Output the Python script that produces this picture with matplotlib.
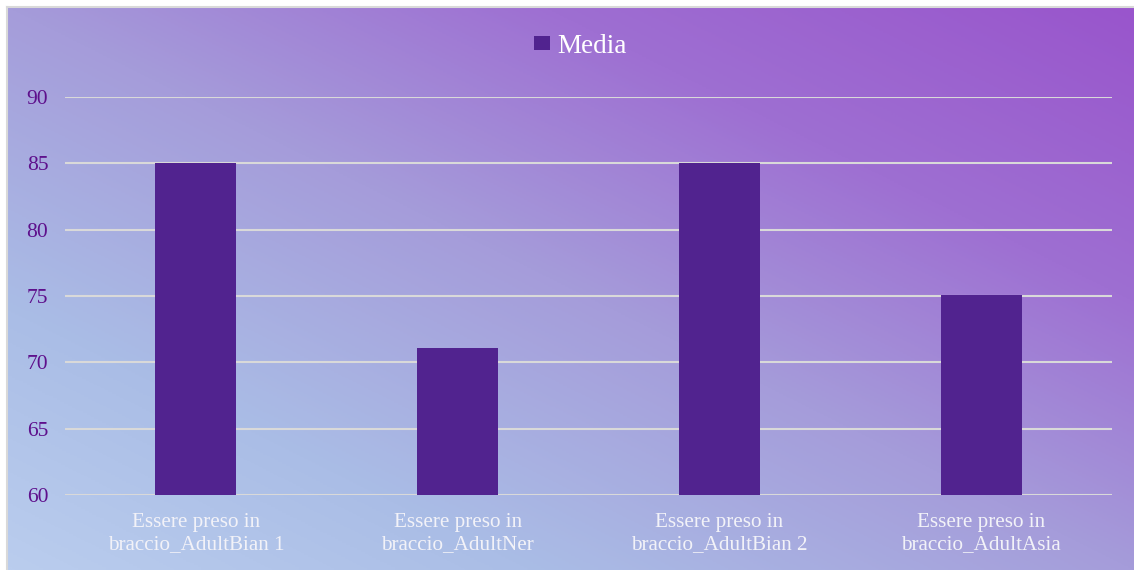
import matplotlib.pyplot as plt
import numpy as np
from matplotlib.colors import LinearSegmentedColormap

categories = ["Essere preso in\nbraccio_AdultBian 1", "Essere preso in\nbraccio_AdultNer",
              "Essere preso in\nbraccio_AdultBian 2", "Essere preso in\nbraccio_AdultAsia"]
media = [85, 71.1, 85, 75.05]
yticks = [60, 65, 70, 75, 80, 85, 90]

plt.rcParams['font.family'] = ['Liberation Serif', 'DejaVu Serif']

fig = plt.figure(figsize=(11.34, 5.70), dpi=100)
W, H = 1134, 570

# diagonal gradient background, light blue bottom-left -> violet top-right
grad = LinearSegmentedColormap.from_list('bg', [
    (0.0, '#bacdee'), (0.23, '#aabde6'), (0.5, '#a59cda'),
    (0.74, '#9e6fd2'), (1.0, '#9955cc')])
bg = fig.add_axes([7 / W, 0, 1 - 7 / W, 1 - 7 / H])
u = np.linspace(0, 1, 600)[None, :]
v = np.linspace(1, 0, 300)[:, None]
t = (u + v) / 2
bg.imshow(t, cmap=grad, vmin=0, vmax=1, aspect='auto', extent=[0, 1, 0, 1],
          interpolation='bilinear')
bg.set_xlim(0, 1)
bg.set_ylim(0, 1)
bg.axis('off')
fig.add_artist(plt.Line2D([6.5 / W, 1], [1 - 6.5 / H, 1 - 6.5 / H], color='#d9d9d9', lw=1.5))
fig.add_artist(plt.Line2D([6.5 / W, 6.5 / W], [0, 1 - 6.5 / H], color='#d9d9d9', lw=1.5))

# plot area
x0, x1 = 65, 1112
y0, y1 = 495, 97
ax = fig.add_axes([x0 / W, 1 - y0 / H, (x1 - x0) / W, (y0 - y1) / H])
ax.patch.set_alpha(0)
xs = np.arange(len(categories))
ax.bar(xs, media, width=0.31, color='#51238f', zorder=3, label='Media')
ax.set_xlim(-0.5, 3.5)
ax.set_ylim(60, 90)
ax.set_yticks(yticks)
ax.set_xticks(xs)
ax.set_xticklabels(categories, color='#f2f2f8', fontsize=15.2, linespacing=1.2)
ax.tick_params(axis='y', colors='#5e108c', labelsize=15.5, length=0, pad=12)
ax.tick_params(axis='x', length=0, pad=13)
ax.grid(axis='y', color='#d9d9d9', lw=1.5, zorder=1)
for s in ax.spines.values():
    s.set_visible(False)

leg = ax.legend(loc='center', bbox_to_anchor=((580 - x0) / (x1 - x0), (y0 - 46) / (y0 - y1)),
                frameon=False, fontsize=19.5, handlelength=0.62, handleheight=0.45,
                handletextpad=0.25)
for t in leg.get_texts():
    t.set_color('white')

fig.savefig('out.png', dpi=100)
